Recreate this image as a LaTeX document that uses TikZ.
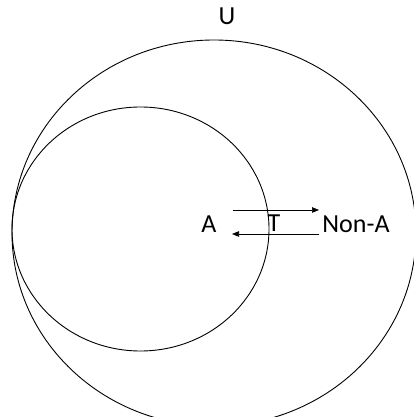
\documentclass[tikz,border=0pt]{standalone}
\usepackage{fontspec}
\setmainfont{Carlito}
\usetikzlibrary{arrows.meta}
\begin{document}
\begin{tikzpicture}[x=1pt,y=1pt,
  lbl/.style={anchor=base,inner sep=0pt,font=\fontsize{26}{30}\selectfont},
  ring/.style={draw=black,line width=0.9pt},
  link/.style={line width=0.7pt,-{Triangle[length=7pt,width=5.5pt]}}]
\useasboundingbox (0,0) rectangle (414,417);
\clip (0,0) rectangle (414,417);
\fill[white] (0,0) rectangle (414,417);
\draw[ring] (214,184) ellipse [x radius=202,y radius=193];
\draw[ring] (140.5,188) ellipse [x radius=128.5,y radius=122];
\node[lbl] (u) at (227,392) {U};
\node[lbl] (a) at (209,184) {A};
\node[lbl] (t) at (274,185) {T};
\node[lbl] (nona) at (356,184) {Non-A};
\coordinate (p1) at (233,207);
\coordinate (p2) at (319,207);
\coordinate (q1) at (319,183);
\coordinate (q2) at (232,183);
\draw[link] (p1) -- (p2);
\draw[link] (q1) -- (q2);
\end{tikzpicture}
\end{document}
